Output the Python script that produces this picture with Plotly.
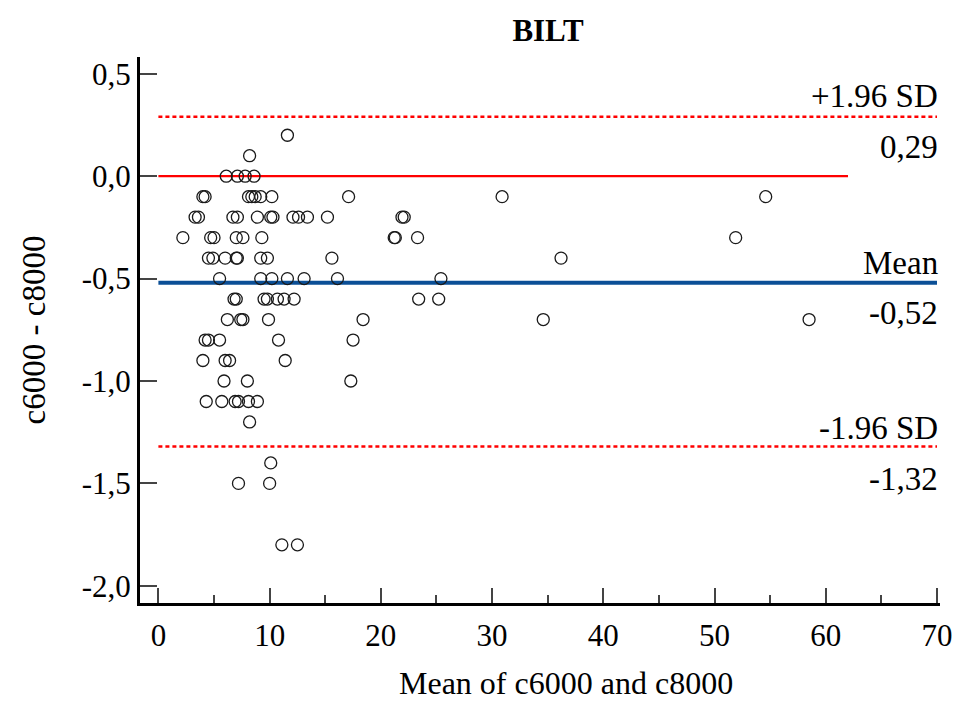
import plotly.graph_objects as go

# ---- data ----
mean_c6000_c8000 = [
    11.6,
    8.2,
    6.1, 7.1, 7.8, 8.6,
    4.0, 4.2, 8.1, 8.4, 8.7, 9.2, 10.2, 17.1, 30.9, 54.6,
    3.3, 3.6, 6.7, 7.1, 8.9, 10.1, 10.3, 12.1, 12.6, 13.4, 15.2, 21.9, 22.1,
    2.2, 4.7, 5.0, 7.0, 7.6, 9.3, 21.2, 21.3, 23.3, 51.9,
    4.5, 4.9, 6.0, 7.0, 7.1, 9.2, 9.8, 15.6, 36.2,
    5.5, 9.2, 10.2, 11.6, 13.1, 16.1, 25.4,
    6.8, 7.0, 9.5, 9.8, 10.7, 11.3, 12.2, 23.4, 25.2,
    6.2, 7.4, 7.6, 9.9, 18.4, 34.6, 58.5,
    4.2, 4.5, 5.5, 10.8, 17.5,
    4.0, 6.0, 6.4, 11.4,
    5.9, 8.0, 17.3,
    4.3, 5.7, 6.9, 7.2, 8.1, 8.9,
    8.2,
    10.1,
    7.2, 10.0,
    11.1, 12.5,
]
diff_c6000_c8000 = (
    [0.2]
    + [0.1]
    + [0.0] * 4
    + [-0.1] * 10
    + [-0.2] * 13
    + [-0.3] * 10
    + [-0.4] * 9
    + [-0.5] * 7
    + [-0.6] * 9
    + [-0.7] * 7
    + [-0.8] * 5
    + [-0.9] * 4
    + [-1.0] * 3
    + [-1.1] * 6
    + [-1.2] * 1
    + [-1.4] * 1
    + [-1.5] * 2
    + [-1.8] * 2
)
bias = -0.52
upper_loa = 0.29
lower_loa = -1.32
line_x = [0, 70]
zero_line_x = [0, 62]

x_ticks = [0, 10, 20, 30, 40, 50, 60, 70]
y_ticks = [0.5, 0.0, -0.5, -1.0, -1.5, -2.0]
y_ticklabels = ["0,5", "0,0", "-0,5", "-1,0", "-1,5", "-2,0"]

FONT = "Liberation Serif"


def fmt(v):
    return f"{v:.2f}".replace(".", ",")


fig = go.Figure()

# zero reference line
fig.add_trace(go.Scatter(x=zero_line_x, y=[0, 0], mode="lines",
                         line=dict(color="#ff0000", width=2.2),
                         hoverinfo="skip", showlegend=False))
# limits of agreement
for v in (upper_loa, lower_loa):
    fig.add_trace(go.Scatter(x=line_x, y=[v, v], mode="lines",
                             line=dict(color="#ff0000", width=2.6, dash="4px,3px"),
                             hoverinfo="skip", showlegend=False))
# mean difference
fig.add_trace(go.Scatter(x=line_x, y=[bias, bias], mode="lines",
                         line=dict(color="#0b4f96", width=4),
                         hoverinfo="skip", showlegend=False))
# points
fig.add_trace(go.Scatter(x=mean_c6000_c8000, y=diff_c6000_c8000, mode="markers",
                         marker=dict(symbol="circle-open", size=12,
                                     color="#1a1a1a", line=dict(width=1.3)),
                         showlegend=False))

ann = []


def line_label(text, yv, shift):
    ann.append(dict(x=70, y=yv, xref="x", yref="y", text=text, showarrow=False,
                    xanchor="right", yanchor="middle", yshift=shift, xshift=3,
                    font=dict(family=FONT, size=33, color="#000")))


line_label("+1.96 SD", upper_loa, 21)
line_label(fmt(upper_loa), upper_loa, -30)
line_label("Mean", bias, 20)
line_label(fmt(bias), bias, -30)
line_label("-1.96 SD", lower_loa, 19)
line_label(fmt(lower_loa), lower_loa, -32)

# axis titles
ann.append(dict(x=0.5325, y=-0.146, xref="paper", yref="paper",
                text="Mean of c6000 and c8000", showarrow=False,
                xanchor="center", yanchor="middle",
                font=dict(family=FONT, size=32, color="#000")))
ann.append(dict(x=-0.132, y=0.5, xref="paper", yref="paper",
                text="c6000 - c8000", showarrow=False, textangle=-90,
                xanchor="center", yanchor="middle",
                font=dict(family=FONT, size=33, color="#000")))

fig.update_layout(
    width=957, height=702,
    margin=dict(l=140, r=17, t=57, b=99, autoexpand=False),
    paper_bgcolor="white", plot_bgcolor="white",
    title=dict(text="<b>BILT</b>", x=548 / 957, xref="container", xanchor="center",
               y=1 - 30 / 702, yref="container", yanchor="middle",
               font=dict(family=FONT, size=31, color="#000")),
    annotations=ann,
    font=dict(family=FONT, size=31, color="#000"),
)
fig.update_xaxes(
    range=[-1.654, 70.27], tickvals=x_ticks, ticktext=[str(t) for t in x_ticks],
    automargin=False,
    showgrid=False, zeroline=False, showline=True, linecolor="#000", linewidth=3,
    ticks="inside", ticklen=15, tickwidth=2, tickcolor="#444",
    minor=dict(ticks="inside", ticklen=8, tickwidth=1.5, tickcolor="#444",
               dtick=5, tick0=0, showgrid=False),
    tickfont=dict(family=FONT, size=31, color="#000"), ticklabelstandoff=3,
)
fig.update_yaxes(
    range=[-2.084, 0.582], tickvals=y_ticks, ticktext=y_ticklabels,
    automargin=False,
    showgrid=False, zeroline=False, showline=True, linecolor="#000", linewidth=3,
    ticks="inside", ticklen=17, tickwidth=2, tickcolor="#444",
    tickfont=dict(family=FONT, size=31, color="#000"), ticklabelstandoff=0,
)

fig.write_html("out.html")
